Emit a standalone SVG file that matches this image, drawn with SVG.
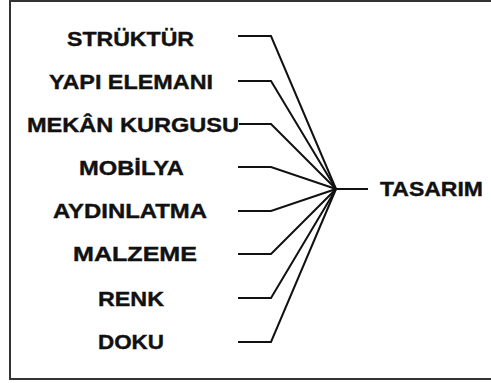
<svg xmlns="http://www.w3.org/2000/svg" width="491" height="383" viewBox="0 0 491 383">
<style>
.lbl{font-family:"Liberation Sans",Arial,sans-serif;font-weight:bold;font-size:21px;fill:#111;stroke:#111;stroke-width:0.4;text-anchor:middle}
.c{fill:none;stroke:#111;stroke-width:2;stroke-linejoin:miter}
</style>
<rect x="0" y="0" width="491" height="383" fill="#fff"/>
<rect id="frame" x="10" y="1" width="490" height="378" fill="none" stroke="#333" stroke-width="2"/>
<g id="connectors">
<polyline class="c" points="238,36 271,36 336,189"/>
<polyline class="c" points="238,81 271,81 336,189"/>
<polyline class="c" points="239,124 271,124 336,189"/>
<polyline class="c" points="238,167 271,167 336,189"/>
<polyline class="c" points="238,211 271,211 336,189"/>
<polyline class="c" points="238,254 271,254 336,189"/>
<polyline class="c" points="238,298 271,298 336,189"/>
<polyline class="c" points="238,342 271,342 336,189"/>
<line class="c" x1="335" y1="189" x2="368" y2="189"/>
</g>
<g id="n-struktur"><text class="lbl" x="130.5" y="45.5" textLength="127" lengthAdjust="spacingAndGlyphs">STRÜKTÜR</text></g>
<g id="n-yapi"><text class="lbl" x="131" y="88.5" textLength="164" lengthAdjust="spacingAndGlyphs">YAPI ELEMANI</text></g>
<g id="n-mekan"><text class="lbl" x="133" y="131.5" textLength="212" lengthAdjust="spacingAndGlyphs">MEKÂN KURGUSU</text></g>
<g id="n-mobilya"><text class="lbl" x="131.5" y="174.5" textLength="105" lengthAdjust="spacingAndGlyphs">MOBİLYA</text></g>
<g id="n-aydinlatma"><text class="lbl" x="130" y="217.5" textLength="154" lengthAdjust="spacingAndGlyphs">AYDINLATMA</text></g>
<g id="n-malzeme"><text class="lbl" x="135" y="260.5" textLength="124" lengthAdjust="spacingAndGlyphs">MALZEME</text></g>
<g id="n-renk"><text class="lbl" x="131" y="306" textLength="66" lengthAdjust="spacingAndGlyphs">RENK</text></g>
<g id="n-doku"><text class="lbl" x="131" y="349" textLength="66" lengthAdjust="spacingAndGlyphs">DOKU</text></g>
<g id="n-tasarim"><text class="lbl" x="431.5" y="196" textLength="103" lengthAdjust="spacingAndGlyphs">TASARIM</text></g>
</svg>
